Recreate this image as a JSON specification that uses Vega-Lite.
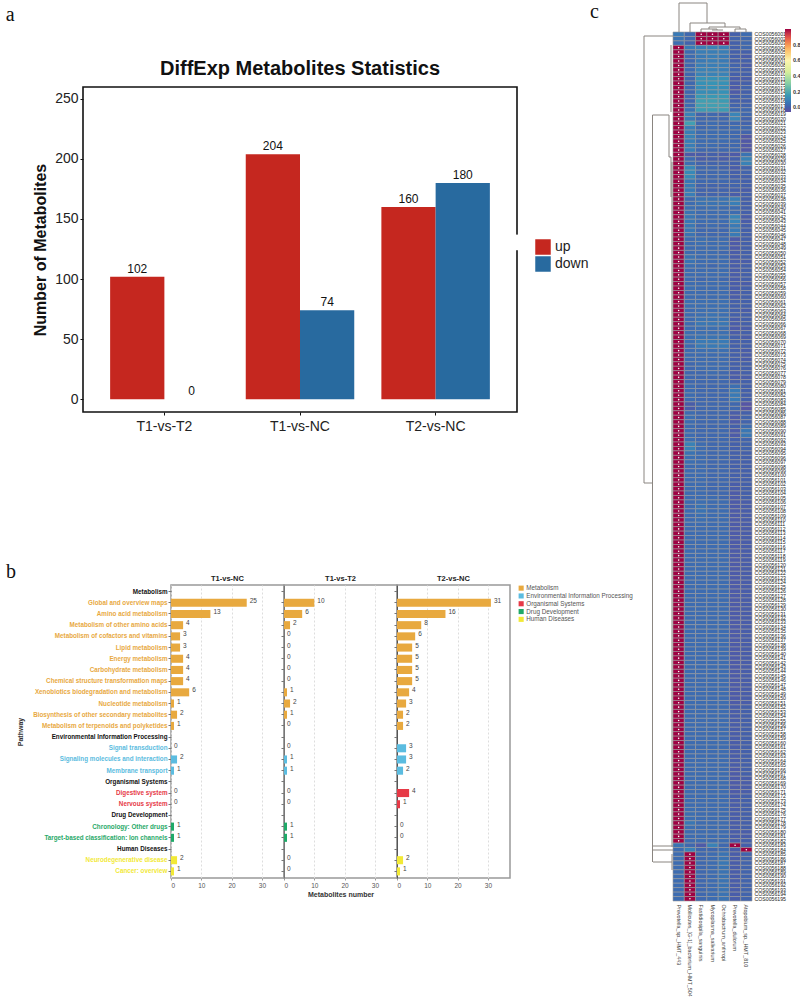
{"$schema":"https://vega.github.io/schema/vega-lite/v6.json","padding":{"left":5,"top":0,"right":0,"bottom":0},"background":"white","config":{"font":"Liberation Sans","view":{"stroke":null}},
"datasets":{
"blank":[{"z":0}],
"dir":[{"s":"T1-vs-T2","d":"up","n":102},{"s":"T1-vs-T2","d":"down","n":0},{"s":"T1-vs-NC","d":"up","n":204},{"s":"T1-vs-NC","d":"down","n":74},{"s":"T2-vs-NC","d":"up","n":160},{"s":"T2-vs-NC","d":"down","n":180}],
"path":[
{"p":"Global and overview maps","g":"Metabolism","nc":25,"t2":10,"t2nc":31},{"p":"Amino acid metabolism","g":"Metabolism","nc":13,"t2":6,"t2nc":16},{"p":"Metabolism of other amino acids","g":"Metabolism","nc":4,"t2":2,"t2nc":8},{"p":"Metabolism of cofactors and vitamins","g":"Metabolism","nc":3,"t2":0,"t2nc":6},{"p":"Lipid metabolism","g":"Metabolism","nc":3,"t2":0,"t2nc":5},{"p":"Energy metabolism","g":"Metabolism","nc":4,"t2":0,"t2nc":5},{"p":"Carbohydrate metabolism","g":"Metabolism","nc":4,"t2":0,"t2nc":5},{"p":"Chemical structure transformation maps","g":"Metabolism","nc":4,"t2":0,"t2nc":5},{"p":"Xenobiotics biodegradation and metabolism","g":"Metabolism","nc":6,"t2":1,"t2nc":4},{"p":"Nucleotide metabolism","g":"Metabolism","nc":1,"t2":2,"t2nc":3},{"p":"Biosynthesis of other secondary metabolites","g":"Metabolism","nc":2,"t2":1,"t2nc":2},{"p":"Metabolism of terpenoids and polyketides","g":"Metabolism","nc":1,"t2":0,"t2nc":2},
{"p":"Signal transduction","g":"Environmental Information Processing","nc":0,"t2":0,"t2nc":3},{"p":"Signaling molecules and interaction","g":"Environmental Information Processing","nc":2,"t2":1,"t2nc":3},{"p":"Membrane transport","g":"Environmental Information Processing","nc":1,"t2":1,"t2nc":2},
{"p":"Digestive system","g":"Organismal Systems","nc":0,"t2":0,"t2nc":4},{"p":"Nervous system","g":"Organismal Systems","nc":0,"t2":0,"t2nc":1},
{"p":"Chronology: Other drugs","g":"Drug Development","nc":1,"t2":1,"t2nc":0},{"p":"Target-based classification: Ion channels","g":"Drug Development","nc":1,"t2":1,"t2nc":0},
{"p":"Neurodegenerative disease","g":"Human Diseases","nc":2,"t2":0,"t2nc":2},{"p":"Cancer: overview","g":"Human Diseases","nc":1,"t2":0,"t2nc":1}],
"tree":[
{"x":6,"x2":34,"y":-29,"y2":-29},{"x":6,"x2":6,"y":-29,"y2":0},{"x":34,"x2":34,"y":-29,"y2":-9},{"x":17,"x2":52,"y":-9,"y2":-9},{"x":17,"x2":17,"y":-9,"y2":0},{"x":52,"x2":52,"y":-9,"y2":-5},{"x":36,"x2":67,"y":-5,"y2":-5},{"x":36,"x2":36,"y":-5,"y2":-3},{"x":67,"x2":67,"y":-5,"y2":-3},{"x":62,"x2":73,"y":-3,"y2":-3},{"x":62,"x2":62,"y":-3,"y2":0},{"x":73,"x2":73,"y":-3,"y2":0},{"x":28,"x2":44,"y":-3,"y2":-3},{"x":28,"x2":28,"y":-3,"y2":0},{"x":44,"x2":44,"y":-3,"y2":-2},{"x":39,"x2":50,"y":-2,"y2":-2},
{"x":-29,"x2":-29,"y":4,"y2":451},{"x":-29,"x2":0,"y":4,"y2":4},{"x":-29,"x2":-20.5,"y":451,"y2":451},{"x":-20.5,"x2":-20.5,"y":83,"y2":830},{"x":-20.5,"x2":-4,"y":83,"y2":83},{"x":-4,"x2":-4,"y":83,"y2":125},{"x":-4,"x2":-2,"y":125,"y2":125},{"x":-2,"x2":-2,"y":13,"y2":80},{"x":-2,"x2":-2,"y":125,"y2":165},{"x":-1,"x2":-1,"y":130,"y2":500},{"x":-1,"x2":-1,"y":500,"y2":815},{"x":-20.5,"x2":0,"y":814,"y2":814},{"x":-20.5,"x2":0,"y":818,"y2":818},{"x":-20,"x2":-1,"y":830,"y2":830},{"x":-1,"x2":-1,"y":822,"y2":838}],
"heat":[
{"r":"COS0056001","a":0.07,"b":0.02,"c":1,"d":1,"e":1,"f":0,"g":0.03},{"r":"COS0056002","a":0.05,"b":0.02,"c":1,"d":1,"e":1,"f":0.01,"g":0.02},{"r":"COS0056003","a":0.04,"b":0.01,"c":1,"d":1,"e":1,"f":0,"g":0.02},
{"r":"COS0056004","a":1,"b":0.07,"c":0.08,"d":0.09,"e":0.08,"f":0,"g":0.02},{"r":"COS0056005","a":1,"b":0.03,"c":0.08,"d":0.08,"e":0.08,"f":0,"g":0},{"r":"COS0056006","a":1,"b":0.03,"c":0.07,"d":0.08,"e":0.07,"f":0,"g":-0.01},{"r":"COS0056007","a":1,"b":0.02,"c":0.07,"d":0.08,"e":0.07,"f":0,"g":0},{"r":"COS0056008","a":1,"b":0.02,"c":0.08,"d":0.08,"e":0.08,"f":0.01,"g":-0.01},{"r":"COS0056009","a":1,"b":0.03,"c":0.09,"d":0.09,"e":0.08,"f":0.01,"g":0},{"r":"COS0056010","a":1,"b":0.02,"c":0.09,"d":0.09,"e":0.09,"f":0,"g":0},
{"r":"COS0056011","a":1,"b":0.02,"c":0.13,"d":0.13,"e":0.13,"f":-0.01,"g":-0.01},{"r":"COS0056012","a":1,"b":0.02,"c":0.13,"d":0.14,"e":0.13,"f":-0.01,"g":0},{"r":"COS0056013","a":1,"b":0.03,"c":0.12,"d":0.13,"e":0.12,"f":-0.02,"g":0.01},{"r":"COS0056014","a":1,"b":0.02,"c":0.12,"d":0.12,"e":0.13,"f":-0.02,"g":0},{"r":"COS0056015","a":1,"b":0.03,"c":0.15,"d":0.15,"e":0.15,"f":0,"g":0.01},{"r":"COS0056016","a":1,"b":0.02,"c":0.17,"d":0.17,"e":0.16,"f":0,"g":0},{"r":"COS0056017","a":1,"b":0.03,"c":0.17,"d":0.17,"e":0.17,"f":0.01,"g":0.01},{"r":"COS0056018","a":1,"b":0.05,"c":0.16,"d":0.16,"e":0.16,"f":0.02,"g":0.02},
{"r":"COS0056019","a":1,"b":0.09,"c":0.01,"d":0.02,"e":0.01,"f":0.1,"g":0.02},{"r":"COS0056020","a":1,"b":0.07,"c":0.02,"d":0.02,"e":0.02,"f":0.1,"g":0.01},{"r":"COS0056021","a":1,"b":0.17,"c":0.02,"d":0.03,"e":0.02,"f":0.02,"g":0.01},{"r":"COS0056022","a":1,"b":0.08,"c":0.02,"d":0.03,"e":0.02,"f":0.03,"g":0.02},{"r":"COS0056023","a":1,"b":0.08,"c":0.03,"d":0.03,"e":0.03,"f":0.02,"g":0.01},{"r":"COS0056024","a":1,"b":0.09,"c":0.03,"d":0.03,"e":0.03,"f":0.02,"g":-0.03},{"r":"COS0056025","a":1,"b":0.08,"c":0.03,"d":0.03,"e":0.03,"f":0.02,"g":-0.03},{"r":"COS0056026","a":1,"b":0.08,"c":0.03,"d":0.03,"e":0.02,"f":0.02,"g":-0.03},{"r":"COS0056027","a":1,"b":0.08,"c":0.02,"d":0.02,"e":0.02,"f":0.02,"g":-0.03},
{"r":"COS0056028","a":1,"b":-0.02,"c":-0.01,"d":0,"e":-0.01,"f":-0.02,"g":0.05},{"r":"COS0056029","a":1,"b":0.03,"c":-0.01,"d":0,"e":-0.01,"f":0,"g":0.09},{"r":"COS0056030","a":1,"b":0.04,"c":0.01,"d":0.01,"e":0.01,"f":0,"g":0.09},{"r":"COS0056031","a":1,"b":0.11,"c":0.02,"d":0.02,"e":0.01,"f":-0.01,"g":0.01},{"r":"COS0056032","a":1,"b":0.11,"c":0.02,"d":0.02,"e":0.02,"f":0,"g":0.01},{"r":"COS0056033","a":1,"b":0.11,"c":0.02,"d":0.02,"e":0.02,"f":0,"g":0},
{"r":"COS0056034","a":1,"b":0.06,"c":0.02,"d":0.02,"e":0.02,"f":0.01,"g":0},{"r":"COS0056035","a":1,"b":0.07,"c":0.01,"d":0.01,"e":0.01,"f":0.01,"g":0},{"r":"COS0056036","a":1,"b":0.07,"c":0.01,"d":0.01,"e":0.01,"f":0,"g":-0.01},{"r":"COS0056037","a":1,"b":0.08,"c":0.01,"d":0.01,"e":0.01,"f":-0.01,"g":0},
{"r":"COS0056038","a":1,"b":0.03,"c":0.05,"d":0.05,"e":0.05,"f":0.08,"g":0},{"r":"COS0056039","a":1,"b":0.03,"c":0.05,"d":0.05,"e":0.05,"f":0.08,"g":0},{"r":"COS0056040","a":1,"b":0.04,"c":0.03,"d":0.04,"e":0.03,"f":0.03,"g":0},{"r":"COS0056041","a":1,"b":0.05,"c":0.03,"d":0.03,"e":0.03,"f":0.03,"g":0},
{"r":"COS0056042","a":1,"b":0.06,"c":0.03,"d":0.03,"e":0.03,"f":0.1,"g":-0.01},{"r":"COS0056043","a":1,"b":0.06,"c":0.03,"d":0.03,"e":0.03,"f":0.1,"g":-0.01},{"r":"COS0056044","a":1,"b":0.06,"c":0.02,"d":0.03,"e":0.02,"f":0.07,"g":0},{"r":"COS0056045","a":1,"b":0.06,"c":0.02,"d":0.02,"e":0.02,"f":0.07,"g":0},{"r":"COS0056046","a":1,"b":0.05,"c":0.02,"d":0.02,"e":0.02,"f":0.07,"g":0},
{"r":"COS0056047","a":1,"b":0.03,"c":0.04,"d":0.03,"e":0.03,"f":-0.02,"g":0},{"r":"COS0056048","a":1,"b":0.03,"c":0.04,"d":0.03,"e":0.03,"f":-0.02,"g":0},{"r":"COS0056049","a":1,"b":0.03,"c":0.03,"d":0.03,"e":0.03,"f":-0.02,"g":0},{"r":"COS0056050","a":1,"b":0.03,"c":0.03,"d":0.03,"e":0.02,"f":-0.01,"g":0},
{"r":"COS0056051","a":1,"b":0.05,"c":0.03,"d":0.03,"e":0.03,"f":-0.01,"g":0},{"r":"COS0056052","a":1,"b":0.05,"c":0.03,"d":0.03,"e":0.03,"f":-0.01,"g":-0.01},{"r":"COS0056053","a":1,"b":0.04,"c":0.03,"d":0.02,"e":0.03,"f":-0.01,"g":0},{"r":"COS0056054","a":1,"b":0.03,"c":0.03,"d":0.03,"e":0.03,"f":-0.01,"g":0},{"r":"COS0056055","a":1,"b":0.03,"c":0.03,"d":0.03,"e":0.03,"f":-0.01,"g":0},{"r":"COS0056056","a":1,"b":0.03,"c":0.02,"d":0.03,"e":0.02,"f":-0.01,"g":0},{"r":"COS0056057","a":1,"b":0.03,"c":0.03,"d":0.03,"e":0.03,"f":-0.01,"g":-0.01},{"r":"COS0056058","a":1,"b":0.04,"c":0.03,"d":0.03,"e":0.03,"f":-0.01,"g":0},{"r":"COS0056059","a":1,"b":0.03,"c":0.03,"d":0.03,"e":0.03,"f":-0.01,"g":0},{"r":"COS0056060","a":1,"b":0.03,"c":0.03,"d":0.03,"e":0.03,"f":-0.01,"g":0},
{"r":"COS0056061","a":1,"b":0.04,"c":0.04,"d":0.04,"e":0.04,"f":0,"g":0},{"r":"COS0056062","a":1,"b":0.04,"c":0.04,"d":0.04,"e":0.04,"f":0,"g":0},{"r":"COS0056063","a":1,"b":0.03,"c":0.04,"d":0.04,"e":0.04,"f":0,"g":-0.01},{"r":"COS0056064","a":1,"b":0.03,"c":0.04,"d":0.05,"e":0.04,"f":0,"g":0},{"r":"COS0056065","a":1,"b":0.03,"c":0.05,"d":0.05,"e":0.05,"f":-0.01,"g":0},{"r":"COS0056066","a":1,"b":0.03,"c":0.06,"d":0.06,"e":0.06,"f":-0.01,"g":0},{"r":"COS0056067","a":1,"b":0.03,"c":0.04,"d":0.04,"e":0.04,"f":-0.02,"g":-0.01},{"r":"COS0056068","a":1,"b":0.04,"c":0.04,"d":0.04,"e":0.04,"f":-0.01,"g":0},{"r":"COS0056069","a":1,"b":0.04,"c":0.05,"d":0.05,"e":0.05,"f":0,"g":-0.01},{"r":"COS0056070","a":1,"b":0.04,"c":0.07,"d":0.07,"e":0.07,"f":0,"g":0},
{"r":"COS0056071","a":1,"b":0.03,"c":0.07,"d":0.07,"e":0.07,"f":0,"g":0},{"r":"COS0056072","a":1,"b":0.03,"c":0.04,"d":0.04,"e":0.04,"f":0,"g":-0.01},{"r":"COS0056073","a":1,"b":0.03,"c":0.03,"d":0.03,"e":0.03,"f":0,"g":-0.01},{"r":"COS0056074","a":1,"b":0.03,"c":0.03,"d":0.03,"e":0.03,"f":0,"g":-0.01},{"r":"COS0056075","a":1,"b":0.02,"c":0.03,"d":0.03,"e":0.03,"f":0,"g":0},{"r":"COS0056076","a":1,"b":0.02,"c":0.03,"d":0.03,"e":0.03,"f":0,"g":0},{"r":"COS0056077","a":1,"b":0.02,"c":0.02,"d":0.03,"e":0.02,"f":-0.01,"g":0},{"r":"COS0056078","a":1,"b":0.02,"c":0.02,"d":0.02,"e":0.02,"f":-0.01,"g":-0.01},{"r":"COS0056079","a":1,"b":0.02,"c":0.02,"d":0.02,"e":0.02,"f":0,"g":0},{"r":"COS0056080","a":1,"b":0.03,"c":0.02,"d":0.02,"e":0.02,"f":0.04,"g":0},
{"r":"COS0056081","a":1,"b":0.03,"c":0.02,"d":0.02,"e":0.02,"f":0.07,"g":0},{"r":"COS0056082","a":1,"b":0.03,"c":0.02,"d":0.02,"e":0.02,"f":0.07,"g":0},{"r":"COS0056083","a":1,"b":0.03,"c":0.02,"d":0.02,"e":0.02,"f":0.07,"g":0},{"r":"COS0056084","a":1,"b":-0.01,"c":0.02,"d":0.02,"e":0.02,"f":0.02,"g":-0.04},{"r":"COS0056085","a":1,"b":-0.01,"c":0.02,"d":0.02,"e":0.02,"f":0.02,"g":-0.04},{"r":"COS0056086","a":1,"b":0.03,"c":0.02,"d":0.02,"e":0.02,"f":-0.01,"g":0},{"r":"COS0056087","a":1,"b":0.04,"c":0.02,"d":0.02,"e":0.02,"f":-0.02,"g":0.01},{"r":"COS0056088","a":1,"b":0.03,"c":0.02,"d":0.02,"e":0.02,"f":-0.02,"g":0.01},{"r":"COS0056089","a":1,"b":0.03,"c":0.02,"d":0.02,"e":0.02,"f":0,"g":0.03},{"r":"COS0056090","a":1,"b":0.03,"c":0.02,"d":0.02,"e":0.02,"f":-0.02,"g":0.06},
{"r":"COS0056091","a":1,"b":0.03,"c":0.02,"d":0.02,"e":0.02,"f":-0.02,"g":0.06},{"r":"COS0056092","a":1,"b":0.04,"c":0.02,"d":0.02,"e":0.02,"f":0,"g":0.01},{"r":"COS0056093","a":1,"b":0.09,"c":0.03,"d":0.02,"e":0.02,"f":0,"g":0.01},{"r":"COS0056094","a":1,"b":0.09,"c":0.03,"d":0.02,"e":0.02,"f":0,"g":0.01},{"r":"COS0056095","a":1,"b":0.05,"c":0.03,"d":0.02,"e":0.02,"f":0,"g":0},{"r":"COS0056096","a":1,"b":0.04,"c":0.03,"d":0.02,"e":0.02,"f":0,"g":0},{"r":"COS0056097","a":1,"b":0.04,"c":0.03,"d":0.02,"e":0.02,"f":0,"g":0},{"r":"COS0056098","a":1,"b":0.03,"c":0.03,"d":0.02,"e":0.02,"f":0,"g":0},{"r":"COS0056099","a":1,"b":0.03,"c":0.03,"d":0.02,"e":0.02,"f":0,"g":0},{"r":"COS0056100","a":1,"b":0.03,"c":0.03,"d":0.02,"e":0.02,"f":0,"g":0},
{"r":"COS0056101","a":1,"b":0.03,"c":0.03,"d":0.02,"e":0.02,"f":0,"g":0},{"r":"COS0056102","a":1,"b":0.03,"c":0.03,"d":0.02,"e":0.02,"f":-0.01,"g":0},{"r":"COS0056103","a":1,"b":0.03,"c":0.03,"d":0.02,"e":0.02,"f":-0.01,"g":0},{"r":"COS0056104","a":1,"b":0.03,"c":0.03,"d":0.02,"e":0.02,"f":-0.02,"g":0},{"r":"COS0056105","a":1,"b":0.03,"c":0.03,"d":0.03,"e":0.02,"f":-0.02,"g":0},{"r":"COS0056106","a":1,"b":0.03,"c":0.04,"d":0.03,"e":0.03,"f":-0.02,"g":-0.01},{"r":"COS0056107","a":1,"b":0.03,"c":0.05,"d":0.03,"e":0.03,"f":-0.02,"g":-0.01},{"r":"COS0056108","a":1,"b":0.03,"c":0.05,"d":0.03,"e":0.03,"f":-0.02,"g":-0.01},{"r":"COS0056109","a":1,"b":0.03,"c":0.04,"d":0.03,"e":0.03,"f":-0.02,"g":-0.01},{"r":"COS0056110","a":1,"b":0.03,"c":0.04,"d":0.03,"e":0.03,"f":-0.02,"g":-0.01},
{"r":"COS0056111","a":1,"b":0.03,"c":0.03,"d":0.03,"e":0.03,"f":-0.02,"g":-0.01},{"r":"COS0056112","a":1,"b":0.03,"c":0.03,"d":0.03,"e":0.03,"f":-0.02,"g":-0.01},{"r":"COS0056113","a":1,"b":0.03,"c":0.03,"d":0.03,"e":0.03,"f":-0.02,"g":-0.01},{"r":"COS0056114","a":1,"b":0.03,"c":0.03,"d":0.03,"e":0.03,"f":-0.02,"g":-0.01},{"r":"COS0056115","a":1,"b":0.03,"c":0.03,"d":0.03,"e":0.03,"f":-0.02,"g":-0.01},{"r":"COS0056116","a":1,"b":0.03,"c":0.03,"d":0.03,"e":0.03,"f":-0.02,"g":-0.01},{"r":"COS0056117","a":1,"b":0.03,"c":0.03,"d":0.03,"e":0.03,"f":-0.02,"g":-0.01},{"r":"COS0056118","a":1,"b":0.03,"c":0.03,"d":0.03,"e":0.03,"f":-0.02,"g":-0.01},{"r":"COS0056119","a":1,"b":0.03,"c":0.03,"d":0.03,"e":0.03,"f":-0.02,"g":-0.01},{"r":"COS0056120","a":1,"b":0.03,"c":0.03,"d":0.03,"e":0.03,"f":-0.02,"g":-0.01},
{"r":"COS0056121","a":1,"b":0.03,"c":0.03,"d":0.03,"e":0.03,"f":-0.02,"g":-0.01},{"r":"COS0056122","a":1,"b":0.03,"c":0.03,"d":0.03,"e":0.03,"f":-0.02,"g":-0.01},{"r":"COS0056123","a":1,"b":0.03,"c":0.03,"d":0.03,"e":0.03,"f":-0.02,"g":-0.01},{"r":"COS0056124","a":1,"b":0.03,"c":0.03,"d":0.03,"e":0.03,"f":-0.02,"g":-0.01},{"r":"COS0056125","a":1,"b":0.03,"c":0.03,"d":0.03,"e":0.03,"f":-0.02,"g":-0.01},{"r":"COS0056126","a":1,"b":0.03,"c":0.03,"d":0.03,"e":0.03,"f":-0.02,"g":-0.01},{"r":"COS0056127","a":1,"b":0.03,"c":0.03,"d":0.03,"e":0.03,"f":-0.02,"g":-0.01},{"r":"COS0056128","a":1,"b":0.03,"c":0.03,"d":0.03,"e":0.03,"f":-0.02,"g":-0.01},{"r":"COS0056129","a":1,"b":0.03,"c":0.03,"d":0.03,"e":0.03,"f":-0.02,"g":-0.01},{"r":"COS0056130","a":1,"b":0.03,"c":0.03,"d":0.03,"e":0.03,"f":-0.02,"g":-0.01},
{"r":"COS0056131","a":1,"b":0.03,"c":0.03,"d":0.03,"e":0.03,"f":-0.02,"g":-0.01},{"r":"COS0056132","a":1,"b":0.03,"c":0.03,"d":0.03,"e":0.03,"f":-0.02,"g":-0.01},{"r":"COS0056133","a":1,"b":0.03,"c":0.03,"d":0.03,"e":0.03,"f":-0.02,"g":-0.01},{"r":"COS0056134","a":1,"b":0.03,"c":0.03,"d":0.03,"e":0.03,"f":-0.02,"g":-0.01},{"r":"COS0056135","a":1,"b":0.03,"c":0.03,"d":0.03,"e":0.03,"f":-0.02,"g":-0.01},{"r":"COS0056136","a":1,"b":0.03,"c":0.03,"d":0.03,"e":0.03,"f":-0.02,"g":-0.01},{"r":"COS0056137","a":1,"b":0.03,"c":0.03,"d":0.03,"e":0.03,"f":-0.02,"g":-0.01},{"r":"COS0056138","a":1,"b":0.03,"c":0.03,"d":0.03,"e":0.03,"f":-0.02,"g":-0.01},{"r":"COS0056139","a":1,"b":0.03,"c":0.03,"d":0.03,"e":0.03,"f":-0.02,"g":-0.01},{"r":"COS0056140","a":1,"b":0.03,"c":0.03,"d":0.03,"e":0.03,"f":-0.02,"g":-0.01},
{"r":"COS0056141","a":1,"b":0.03,"c":0.03,"d":0.03,"e":0.03,"f":-0.02,"g":-0.01},{"r":"COS0056142","a":1,"b":0.03,"c":0.03,"d":0.03,"e":0.03,"f":-0.02,"g":-0.01},{"r":"COS0056143","a":1,"b":0.03,"c":0.03,"d":0.03,"e":0.03,"f":-0.02,"g":-0.01},{"r":"COS0056144","a":1,"b":0.03,"c":0.03,"d":0.03,"e":0.03,"f":-0.02,"g":-0.01},{"r":"COS0056145","a":1,"b":0.03,"c":0.03,"d":0.03,"e":0.03,"f":-0.02,"g":-0.01},{"r":"COS0056146","a":1,"b":0.03,"c":0.03,"d":0.03,"e":0.03,"f":-0.02,"g":-0.01},{"r":"COS0056147","a":1,"b":0.03,"c":0.03,"d":0.03,"e":0.03,"f":-0.02,"g":-0.01},{"r":"COS0056148","a":1,"b":0.03,"c":0.03,"d":0.03,"e":0.03,"f":-0.02,"g":-0.01},{"r":"COS0056149","a":1,"b":0.03,"c":0.03,"d":0.03,"e":0.03,"f":-0.02,"g":-0.01},{"r":"COS0056150","a":1,"b":0.03,"c":0.03,"d":0.03,"e":0.03,"f":-0.02,"g":-0.01},
{"r":"COS0056151","a":1,"b":0.03,"c":0.03,"d":0.03,"e":0.03,"f":-0.02,"g":-0.01},{"r":"COS0056152","a":1,"b":0.03,"c":0.03,"d":0.03,"e":0.03,"f":-0.01,"g":0},{"r":"COS0056153","a":1,"b":0.03,"c":0.03,"d":0.03,"e":0.03,"f":-0.01,"g":0},{"r":"COS0056154","a":1,"b":0.03,"c":0.03,"d":0.03,"e":0.03,"f":-0.01,"g":0},{"r":"COS0056155","a":1,"b":0.03,"c":0.03,"d":0.03,"e":0.03,"f":-0.01,"g":0},{"r":"COS0056156","a":1,"b":0.03,"c":0.03,"d":0.03,"e":0.03,"f":-0.01,"g":0},{"r":"COS0056157","a":1,"b":0.03,"c":0.03,"d":0.03,"e":0.03,"f":-0.01,"g":0},{"r":"COS0056158","a":1,"b":0.03,"c":0.03,"d":0.03,"e":0.03,"f":-0.01,"g":0},{"r":"COS0056159","a":1,"b":0.03,"c":0.03,"d":0.03,"e":0.03,"f":-0.01,"g":0},{"r":"COS0056160","a":1,"b":0.03,"c":0.03,"d":0.03,"e":0.03,"f":-0.01,"g":0},
{"r":"COS0056161","a":1,"b":0.03,"c":0.03,"d":0.03,"e":0.03,"f":-0.01,"g":0},{"r":"COS0056162","a":1,"b":0.03,"c":0.03,"d":0.03,"e":0.03,"f":-0.01,"g":0},{"r":"COS0056163","a":1,"b":0.03,"c":0.03,"d":0.03,"e":0.03,"f":-0.01,"g":0},{"r":"COS0056164","a":1,"b":0.03,"c":0.03,"d":0.03,"e":0.03,"f":-0.01,"g":0},{"r":"COS0056165","a":1,"b":0.03,"c":0.03,"d":0.03,"e":0.03,"f":-0.01,"g":0},{"r":"COS0056166","a":1,"b":0.03,"c":0.03,"d":0.03,"e":0.03,"f":-0.02,"g":0},{"r":"COS0056167","a":1,"b":0.03,"c":0.03,"d":0.03,"e":0.03,"f":-0.02,"g":0},{"r":"COS0056168","a":1,"b":0.03,"c":0.03,"d":0.03,"e":0.03,"f":-0.02,"g":-0.01},{"r":"COS0056169","a":1,"b":0.03,"c":0.03,"d":0.03,"e":0.03,"f":-0.02,"g":-0.01},{"r":"COS0056170","a":1,"b":0.03,"c":0.03,"d":0.03,"e":0.03,"f":-0.02,"g":-0.01},
{"r":"COS0056171","a":1,"b":0.03,"c":0.03,"d":0.03,"e":0.03,"f":-0.02,"g":-0.01},{"r":"COS0056172","a":1,"b":0.03,"c":0.03,"d":0.03,"e":0.03,"f":-0.01,"g":0},{"r":"COS0056173","a":1,"b":0.03,"c":0.03,"d":0.03,"e":0.03,"f":-0.01,"g":0},{"r":"COS0056174","a":1,"b":0.03,"c":0.03,"d":0.03,"e":0.03,"f":-0.01,"g":0},{"r":"COS0056175","a":1,"b":0.04,"c":0.03,"d":0.03,"e":0.03,"f":-0.01,"g":0},{"r":"COS0056176","a":1,"b":0.04,"c":0.03,"d":0.03,"e":0.03,"f":-0.01,"g":0},{"r":"COS0056177","a":1,"b":0.04,"c":0.03,"d":0.03,"e":0.03,"f":-0.01,"g":0},{"r":"COS0056178","a":1,"b":0.06,"c":0.03,"d":0.03,"e":0.03,"f":-0.01,"g":0},{"r":"COS0056179","a":1,"b":0.04,"c":0.03,"d":0.03,"e":0.03,"f":-0.01,"g":0},{"r":"COS0056180","a":1,"b":0.03,"c":0.03,"d":0.03,"e":0.03,"f":-0.01,"g":-0.01},{"r":"COS0056181","a":1,"b":0.03,"c":0.03,"d":0.03,"e":0.03,"f":-0.01,"g":-0.01},{"r":"COS0056182","a":1,"b":0.03,"c":0.03,"d":0.03,"e":0.03,"f":-0.01,"g":0},
{"r":"COS0056183","a":0.05,"b":0.02,"c":-0.02,"d":0.09,"e":0.02,"f":1,"g":0},{"r":"COS0056184","a":0.03,"b":0.09,"c":0.02,"d":0.02,"e":0.03,"f":-0.01,"g":1},
{"r":"COS0056185","a":0.03,"b":1,"c":0.02,"d":0.03,"e":0.05,"f":-0.01,"g":0.01},{"r":"COS0056186","a":0.03,"b":1,"c":0.02,"d":0.03,"e":0.05,"f":-0.01,"g":0.01},{"r":"COS0056187","a":0.03,"b":1,"c":0.02,"d":0.03,"e":0.06,"f":-0.01,"g":0.01},{"r":"COS0056188","a":0.03,"b":1,"c":0.02,"d":0.03,"e":0.05,"f":-0.01,"g":0.01},{"r":"COS0056189","a":0.03,"b":1,"c":0.02,"d":0.03,"e":0.05,"f":-0.01,"g":0.01},{"r":"COS0056190","a":0.03,"b":1,"c":0.02,"d":0.03,"e":0.05,"f":-0.01,"g":0.01},{"r":"COS0056191","a":0.03,"b":1,"c":0.02,"d":0.03,"e":0.05,"f":-0.01,"g":0.01},{"r":"COS0056192","a":0.03,"b":1,"c":0.02,"d":0.03,"e":0.05,"f":-0.01,"g":0.01},{"r":"COS0056193","a":0.03,"b":1,"c":0.02,"d":0.03,"e":0.05,"f":-0.01,"g":0.01},{"r":"COS0056194","a":0.03,"b":1,"c":0.02,"d":0.03,"e":0.05,"f":-0.01,"g":0.01},{"r":"COS0056195","a":0.03,"b":1,"c":0.02,"d":0.03,"e":0.05,"f":-0.01,"g":0.01}]
},
"resolve":{"scale":{"color":"independent"},"legend":{"color":"independent"}},
"spacing":10,"align":"none",
"hconcat":[
{"align":"none","spacing":0,"resolve":{"scale":{"color":"independent"},"legend":{"color":"independent"}},"vconcat":[
{"width":1,"height":1,"data":{"name":"blank"},"mark":{"type":"rule","opacity":0},"encoding":{}},
{"align":"none","vconcat":[
 {"title":{"text":"c","anchor":"end","frame":"bounds","font":"Liberation Serif","fontSize":20,"fontWeight":"normal","color":"#111","dx":10,"offset":-17},
  "resolve":{"scale":{"color":"independent"},"legend":{"color":"independent"}},
  "align":"none",
  "vconcat":[{"title":{"text":"a","anchor":"start","frame":"bounds","font":"Liberation Serif","fontSize":20,"fontWeight":"normal","color":"#111","dx":-26,"offset":33},
   "align":"none",
   "vconcat":[{
   "title":{"text":"DiffExp Metabolites Statistics","fontSize":20,"fontWeight":"bold","color":"#111","font":"Liberation Sans","offset":8},
   "width":434,"height":325,"view":{"stroke":"#111","strokeWidth":1.6},
   "layer":[
    {"data":{"name":"dir"},"mark":{"type":"bar"},"encoding":{
     "x":{"field":"s","type":"nominal","sort":["T1-vs-T2","T1-vs-NC","T2-vs-NC"],"scale":{"paddingInner":0.2,"paddingOuter":0.2},"axis":{"title":null,"labelAngle":0,"labelFontSize":14,"labelColor":"#222","domain":false,"tickColor":"#111","tickSize":3,"labelPadding":4}},
     "xOffset":{"field":"d","sort":["up","down"],"scale":{"paddingInner":0,"paddingOuter":0}},
     "y":{"field":"n","type":"quantitative","scale":{"domain":[-10.7,259.9],"nice":false,"zero":false},"axis":{"title":"Number of Metabolites","titleFontSize":16,"titleFontWeight":"bold","titleColor":"#111","labelFontSize":14,"labelColor":"#222","values":[0,50,100,150,200,250],"grid":false,"domain":false,"tickColor":"#111","tickSize":3,"labelPadding":2,"titlePadding":6}},
     "color":{"field":"d","type":"nominal","scale":{"domain":["up","down"],"range":["#C5271F","#286A9F"]},"legend":{"title":null,"orient":"none","legendX":452,"legendY":152,"symbolType":"square","symbolSize":240,"labelFontSize":14,"labelColor":"#222","rowPadding":1,"symbolStrokeWidth":0,"symbolOpacity":1}}}},
    {"data":{"name":"dir"},"mark":{"type":"text","fontSize":12,"color":"#111","baseline":"middle","dy":-8},"encoding":{
     "x":{"field":"s","type":"nominal","sort":["T1-vs-T2","T1-vs-NC","T2-vs-NC"]},
     "xOffset":{"field":"d","sort":["up","down"]},
     "y":{"field":"n","type":"quantitative"},"text":{"field":"n"}}},
    {"data":{"values":[{"y0":124,"y1":137}]},"mark":{"type":"rule","color":"white","strokeWidth":4},"encoding":{"x":{"value":"width"},"y":{"field":"y0","type":"quantitative"},"y2":{"field":"y1"}}}
   ]}]}]},
 {"title":{"text":"b","anchor":"start","frame":"bounds","font":"Liberation Serif","fontSize":20,"fontWeight":"normal","color":"#111","dx":-10,"offset":-8},
  "bounds":"flush","spacing":0,
  "hconcat":[
   {"width":88,"height":1,"data":{"name":"blank"},"mark":{"type":"rule","opacity":0},"encoding":{}},
   {"title":{"text":"T1-vs-NC","fontSize":7.5,"fontWeight":"bold","color":"#222","offset":3},"width":113,"height":293,"view":{"stroke":"#999","strokeWidth":1.5},
    "data":{"name":"path"},
    "layer":[
     {"mark":{"type":"bar"},"encoding":{
      "y":{"field":"p","type":"nominal","scale":{"domain":["Metabolism","Global and overview maps","Amino acid metabolism","Metabolism of other amino acids","Metabolism of cofactors and vitamins","Lipid metabolism","Energy metabolism","Carbohydrate metabolism","Chemical structure transformation maps","Xenobiotics biodegradation and metabolism","Nucleotide metabolism","Biosynthesis of other secondary metabolites","Metabolism of terpenoids and polyketides","Environmental Information Processing","Signal transduction","Signaling molecules and interaction","Membrane transport","Organismal Systems","Digestive system","Nervous system","Drug Development","Chronology: Other drugs","Target-based classification: Ion channels","Human Diseases","Neurodegenerative disease","Cancer: overview"],"paddingInner":0.28,"paddingOuter":0.23},"axis":{"title":"Pathway","titleFontSize":7,"titleFontWeight":"bold","titleColor":"#333","titlePadding":9,"labelFontSize":6.3,"labelFontWeight":"bold","labelPadding":1,"labelLimit":300,"domain":false,"tickColor":"#777","tickSize":3,"labelColor":{"expr":"indexof(['Metabolism','Environmental Information Processing','Organismal Systems','Drug Development','Human Diseases'],datum.value)>=0?'#111':indexof(['Signal transduction','Signaling molecules and interaction','Membrane transport'],datum.value)>=0?'#5BBCE0':indexof(['Digestive system','Nervous system'],datum.value)>=0?'#E63946':indexof(['Chronology: Other drugs','Target-based classification: Ion channels'],datum.value)>=0?'#1FA968':indexof(['Neurodegenerative disease','Cancer: overview'],datum.value)>=0?'#F2E936':'#E8A93F'"}}},
      "x":{"field":"nc","type":"quantitative","scale":{"domain":[0,37.3],"nice":false},"axis":{"title":null,"tickCount":4,"labelOverlap":false,"labelFontSize":6.5,"labelColor":"#555","tickColor":"#999","tickSize":2,"labelPadding":2,"domain":false,"grid":true,"gridColor":"#ddd","gridDash":[2,2]}},
      "color":{"field":"g","type":"nominal","scale":{"domain":["Metabolism","Environmental Information Processing","Organismal Systems","Drug Development","Human Diseases"],"range":["#E8A93F","#5BBCE0","#E63946","#1FA968","#F2E936"]},"legend":{"title":null,"orient":"none","legendX":435,"legendY":0,"symbolType":"square","symbolSize":26,"symbolStrokeWidth":0,"labelFontSize":6.3,"labelColor":"#555","labelLimit":200,"rowPadding":0.8,"labelOffset":2}}}},
     {"mark":{"type":"text","fontSize":6.5,"color":"#444","align":"left","dx":3,"dy":-2},"encoding":{"y":{"field":"p","type":"nominal"},"x":{"field":"nc","type":"quantitative"},"text":{"field":"nc"}}}
    ]},
   {"title":{"text":"T1-vs-T2","fontSize":7.5,"fontWeight":"bold","color":"#222","offset":3},"width":113,"height":293,"view":{"stroke":"#999","strokeWidth":1.5},
    "data":{"name":"path"},
    "layer":[
     {"mark":{"type":"bar"},"encoding":{
      "y":{"field":"p","type":"nominal","scale":{"domain":["Metabolism","Global and overview maps","Amino acid metabolism","Metabolism of other amino acids","Metabolism of cofactors and vitamins","Lipid metabolism","Energy metabolism","Carbohydrate metabolism","Chemical structure transformation maps","Xenobiotics biodegradation and metabolism","Nucleotide metabolism","Biosynthesis of other secondary metabolites","Metabolism of terpenoids and polyketides","Environmental Information Processing","Signal transduction","Signaling molecules and interaction","Membrane transport","Organismal Systems","Digestive system","Nervous system","Drug Development","Chronology: Other drugs","Target-based classification: Ion channels","Human Diseases","Neurodegenerative disease","Cancer: overview"],"paddingInner":0.28,"paddingOuter":0.23},"axis":{"title":null,"labels":false,"domain":true,"domainColor":"#777","tickColor":"#777","tickSize":3}},
      "x":{"field":"t2","type":"quantitative","scale":{"domain":[0,37.3],"nice":false},"axis":{"title":"Metabolites number","titleFontSize":7,"titleFontWeight":"bold","titleColor":"#333","titlePadding":2,"tickCount":4,"labelOverlap":false,"labelFontSize":6.5,"labelColor":"#555","tickColor":"#999","tickSize":2,"labelPadding":2,"domain":false,"grid":true,"gridColor":"#ddd","gridDash":[2,2]}},
      "color":{"field":"g","type":"nominal"}}},
     {"mark":{"type":"text","fontSize":6.5,"color":"#444","align":"left","dx":3,"dy":-2},"encoding":{"y":{"field":"p","type":"nominal"},"x":{"field":"t2","type":"quantitative"},"text":{"field":"t2"}}}
    ]},
   {"title":{"text":"T2-vs-NC","fontSize":7.5,"fontWeight":"bold","color":"#222","offset":3},"width":113,"height":293,"view":{"stroke":"#999","strokeWidth":1.5},
    "data":{"name":"path"},
    "layer":[
     {"mark":{"type":"bar"},"encoding":{
      "y":{"field":"p","type":"nominal","scale":{"domain":["Metabolism","Global and overview maps","Amino acid metabolism","Metabolism of other amino acids","Metabolism of cofactors and vitamins","Lipid metabolism","Energy metabolism","Carbohydrate metabolism","Chemical structure transformation maps","Xenobiotics biodegradation and metabolism","Nucleotide metabolism","Biosynthesis of other secondary metabolites","Metabolism of terpenoids and polyketides","Environmental Information Processing","Signal transduction","Signaling molecules and interaction","Membrane transport","Organismal Systems","Digestive system","Nervous system","Drug Development","Chronology: Other drugs","Target-based classification: Ion channels","Human Diseases","Neurodegenerative disease","Cancer: overview"],"paddingInner":0.28,"paddingOuter":0.23},"axis":{"title":null,"labels":false,"domain":true,"domainColor":"#555","tickColor":"#777","tickSize":3}},
      "x":{"field":"t2nc","type":"quantitative","scale":{"domain":[0,37.3],"nice":false},"axis":{"title":null,"tickCount":4,"labelOverlap":false,"labelFontSize":6.5,"labelColor":"#555","tickColor":"#999","tickSize":2,"labelPadding":2,"domain":false,"grid":true,"gridColor":"#ddd","gridDash":[2,2]}},
      "color":{"field":"g","type":"nominal"}}},
     {"mark":{"type":"text","fontSize":6.5,"color":"#444","align":"left","dx":3,"dy":-2},"encoding":{"y":{"field":"p","type":"nominal"},"x":{"field":"t2nc","type":"quantitative"},"text":{"field":"t2nc"}}}
    ]}
  ]}
 ],"resolve":{"scale":{"color":"independent"},"legend":{"color":"independent"}},"spacing":127}]},
{"align":"none","spacing":0,"vconcat":[
{"width":1,"height":1,"data":{"name":"blank"},"mark":{"type":"rule","opacity":0},"encoding":{}},
{"width":79,"height":869,
 "resolve":{"scale":{"x":"independent","y":"independent"},"axis":{"x":"independent","y":"independent"}},
 "layer":[
  {"data":{"name":"heat"},"transform":[{"fold":["a","b","c","d","e","f","g"],"as":["k","v"]}],"mark":{"type":"rect","stroke":"#9a9a9a","strokeWidth":0.6},"encoding":{
   "x":{"field":"k","type":"nominal","scale":{"domain":["a","b","c","d","e","f","g"],"paddingInner":0,"paddingOuter":0},"axis":{"title":null,"orient":"bottom","labelAngle":90,"labelAlign":"left","labelBaseline":"middle","labelFontSize":5.4,"labelColor":"#444","labelLimit":200,"ticks":false,"domain":false,"labelPadding":3,"labelExpr":"{'a':'Prevotella_sp._HMT_443','b':'Mollicutes_[G-1]_bacterium_HMT_504','c':'Fastidiosipila_sanguinis','d':'Mycoplasma_salivarium','e':'Ochrobactrum_anthropi','f':'Prevotella_dulorum','g':'Atopobium_sp._HMT_810'}[datum.value]"}},
   "y":{"field":"r","type":"nominal","sort":null,"scale":{"paddingInner":0,"paddingOuter":0},"axis":{"title":null,"orient":"right","labelFontSize":5.2,"labelColor":"#222","ticks":false,"domain":false,"labelPadding":2,"labelOverlap":false,"labelBound":false}},
   "color":{"field":"v","type":"quantitative","scale":{"domain":[-0.06,0,0.1,0.2,0.3,0.45,0.6,0.75,0.9,1],"range":["#5e4fa2","#4460ab","#3a85b8","#52a8ad","#85cca5","#d6ee9b","#fdf5ae","#fdb663","#e0504a","#9e0142"]},"legend":{"title":null,"orient":"none","legendX":112,"legendY":28,"gradientLength":83,"gradientThickness":6,"values":[0,0.2,0.4,0.6,0.8],"labelFontSize":5.5,"labelFontWeight":"bold","labelColor":"#333","gradientStrokeWidth":0,"labelOffset":2}}}},
  {"data":{"name":"heat"},"transform":[{"fold":["a","b","c","d","e","f","g"],"as":["k","v"]}],"mark":{"type":"point","filled":true,"color":"white","size":2.5},"encoding":{
   "x":{"field":"k","type":"nominal","scale":{"domain":["a","b","c","d","e","f","g"],"paddingInner":0,"paddingOuter":0},"axis":null},
   "y":{"field":"r","type":"nominal","sort":null,"scale":{"paddingInner":0,"paddingOuter":0},"axis":null},
   "opacity":{"condition":{"test":"datum.v>=0.99","value":1},"value":0}}},
  {"data":{"name":"tree"},"mark":{"type":"rule","color":"#8a8580","strokeWidth":1,"clip":false},"encoding":{
   "x":{"field":"x","type":"quantitative","scale":{"domain":[0,79],"nice":false,"zero":false},"axis":null},"x2":{"field":"x2"},
   "y":{"field":"y","type":"quantitative","scale":{"domain":[0,869],"nice":false,"zero":false,"reverse":true},"axis":null},"y2":{"field":"y2"}}}
 ]}]}
]}
